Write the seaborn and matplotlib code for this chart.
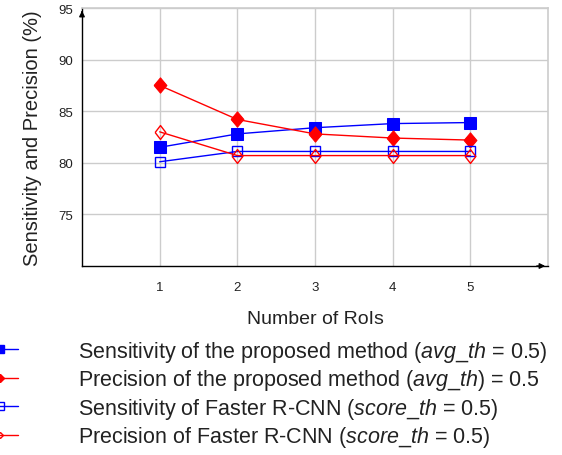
import matplotlib
matplotlib.use("Agg")
import matplotlib.pyplot as plt
import seaborn as sns
import pandas as pd
from matplotlib.lines import Line2D

rois = [1, 2, 3, 4, 5]
sens_proposed = [81.5, 82.8, 83.4, 83.8, 83.9]
prec_proposed = [87.5, 84.2, 82.8, 82.4, 82.2]
sens_faster = [80.1, 81.1, 81.1, 81.1, 81.1]
prec_faster = [83.0, 80.7, 80.7, 80.7, 80.7]
yticks = [75, 80, 85, 90, 95]
labels = [
    r"Sensitivity of the proposed method ($avg\_th$ = 0.5)",
    r"Precision of the proposed method ($avg\_th$) = 0.5",
    r"Sensitivity of Faster R-CNN ($score\_th$ = 0.5)",
    r"Precision of Faster R-CNN ($score\_th$ = 0.5)",
]

sns.set_theme(style="white")
plt.rcParams["font.family"] = ["Liberation Sans", "DejaVu Sans"]
plt.rcParams["mathtext.fontset"] = "custom"
plt.rcParams["mathtext.it"] = "Liberation Sans:italic"
plt.rcParams["mathtext.rm"] = "Liberation Sans"

fig = plt.figure(figsize=(5.62, 4.56), dpi=100)
ax = fig.add_axes([82 / 562, 1 - 267 / 456, (548 - 82) / 562, (267 - 9) / 456])

diamond = [(-0.84, 0), (0, 1), (0.84, 0), (0, -1), (-0.84, 0)]
styles = [
    dict(color="#0000ff", marker="s", markersize=8, markerfacecolor="#0000ff", markeredgecolor="#0000ff"),
    dict(color="#ff0000", marker=diamond, markersize=11, markerfacecolor="#ff0000", markeredgecolor="#ff0000"),
    dict(color="#0000ff", marker="s", markersize=7.5, markerfacecolor="none", markeredgecolor="#0000ff", markeredgewidth=1.0),
    dict(color="#ff0000", marker=[(-0.77, 0), (0, 1), (0.77, 0), (0, -1), (-0.77, 0)], markersize=10,
         markerfacecolor="none", markeredgecolor="#ff0000", markeredgewidth=1.0),
]
series = [sens_proposed, prec_proposed, sens_faster, prec_faster]
for vals, st, lab in zip(series, styles, labels):
    df = pd.DataFrame({"x": rois, "y": vals})
    sns.lineplot(data=df, x="x", y="y", ax=ax, linewidth=1.0, label=lab, **st)

ax.set_xlim(0, 6)
ax.set_ylim(70, 95)
ax.set_xticks(rois)
ax.set_yticks(yticks)
ax.tick_params(axis="both", labelsize=9.5, length=3, color="#bbbbbb", direction="out", labelcolor="#222222")
ax.tick_params(axis="x", pad=8)
ax.grid(True, color="#cccccc", linewidth=1.0)
ax.set_axisbelow(True)
for s in ["top", "right"]:
    ax.spines[s].set_color("#cccccc")
    ax.spines[s].set_linewidth(1.2)
for s in ["left", "bottom"]:
    ax.spines[s].set_color("black")
    ax.spines[s].set_linewidth(1.0)

ax.annotate("", xy=(0, 1.0), xytext=(0, 0.97), xycoords="axes fraction",
            arrowprops=dict(arrowstyle="-|>", color="black", lw=1.0, mutation_scale=8))
ax.annotate("", xy=(1.0, 0), xytext=(0.97, 0), xycoords="axes fraction",
            arrowprops=dict(arrowstyle="-|>", color="black", lw=1.0, mutation_scale=8))

ax.set_xlabel("Number of RoIs", fontsize=14, labelpad=12, color="#222222")
ax.set_ylabel("Sensitivity and Precision (%)", fontsize=14.5, labelpad=12, color="#222222")

handles = [
    Line2D([], [], color="#0000ff", lw=1.0, marker="s", markersize=6),
    Line2D([], [], color="#ff0000", lw=1.0, marker="D", markersize=4.5),
    Line2D([], [], color="#0000ff", lw=1.0, marker="s", markersize=6, markerfacecolor="none"),
    Line2D([], [], color="#ff0000", lw=1.0, marker="D", markersize=3, markerfacecolor="none"),
]
ax.get_legend().remove()
leg = fig.legend(handles, labels, loc="upper left", bbox_to_anchor=(-18 / 562, 1 - 340 / 456),
                 frameon=False, fontsize=15.5, handlelength=1.67, handletextpad=2.8,
                 borderpad=0, borderaxespad=0, labelspacing=0.16)
for t in leg.get_texts():
    t.set_color("#222222")

fig.savefig("out.png", dpi=100)
